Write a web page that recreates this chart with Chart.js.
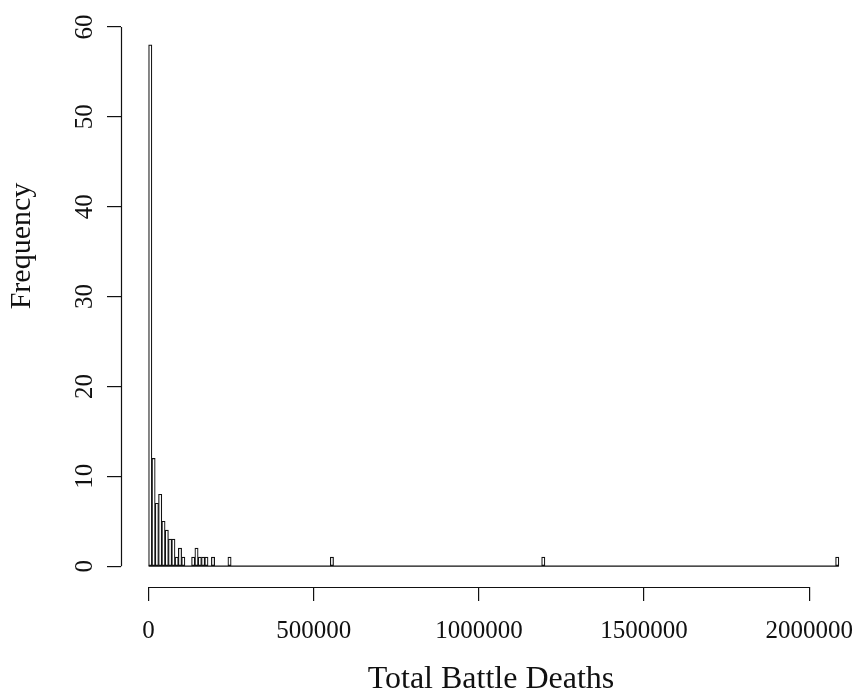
<!DOCTYPE html>
<html>
<head>
<meta charset="utf-8">
<title>Total Battle Deaths</title>
<script src="https://cdn.jsdelivr.net/npm/chart.js@4.4.1/dist/chart.umd.min.js"></script>
<style>
  html, body { margin: 0; padding: 0; background: #fff; }
  #wrap { width: 862px; height: 692px; }
</style>
</head>
<body>
<div id="wrap"><canvas id="histChart"></canvas></div>
<script>
// histogram bins are 10000 deaths wide, only the non-empty ones are listed
const binWidth = 10000;
const binStarts = [0, 10000, 20000, 30000, 40000, 50000, 60000, 70000, 80000, 90000, 100000,
    130000, 140000, 150000, 160000, 170000, 190000,
    240000, 550000, 1190000, 2080000];
const counts = [58, 12, 7, 8, 5, 4, 3, 3, 1, 2, 1,
    1, 2, 1, 1, 1, 1,
    1, 1, 1, 1];

// axis ticks (R style: axis line only runs from first to last tick)
const xTicks = [0, 500000, 1000000, 1500000, 2000000];
const yTicks = [0, 10, 20, 30, 40, 50, 60];

const serif = "'Liberation Serif', 'DejaVu Serif', serif";
const ink = "#111111";

// bar centres for the linear x scale
const barData = binStarts.map((s, i) => ({ x: s + binWidth / 2, y: counts[i] }));
// empty bins are drawn as a flat line on zero, like hist() does
const lastEdge = binStarts[binStarts.length - 1] + binWidth;
const zeroLine = [{ x: binStarts[0], y: 0 }, { x: lastEdge, y: 0 }];

// draws the axis lines and the y title
const rAxes = {
    id: "rAxes",
    afterDraw(chart) {
        const { ctx, chartArea } = chart;
        const x = chart.scales.x;
        const y = chart.scales.y;
        ctx.save();
        ctx.strokeStyle = ink;
        ctx.lineWidth = 1.2;
        ctx.beginPath();
        const bx = Math.round(chartArea.bottom) + 0.5;
        ctx.moveTo(x.getPixelForValue(xTicks[0]), bx);
        ctx.lineTo(x.getPixelForValue(xTicks[xTicks.length - 1]), bx);
        const ly = Math.round(chartArea.left) + 0.5;
        ctx.moveTo(ly, y.getPixelForValue(yTicks[0]));
        ctx.lineTo(ly, y.getPixelForValue(yTicks[yTicks.length - 1]));
        ctx.stroke();

        ctx.translate(22, 246);
        ctx.rotate(-Math.PI / 2);
        ctx.font = "30px " + serif;
        ctx.fillStyle = ink;
        ctx.textAlign = "center";
        ctx.textBaseline = "middle";
        ctx.fillText("Frequency", 0, 0);
        ctx.restore();
    }
};

const tickGrid = {
    display: true,
    drawOnChartArea: false,
    drawTicks: true,
    tickLength: 14,
    color: ink,
    lineWidth: 1.2,
    offset: false
};

const histChart = new Chart("histChart", {
    type: "bar",
    data: {
        datasets: [
            {
                label: "Frequency",
                data: barData,
                backgroundColor: "#ffffff",
                borderColor: ink,
                borderWidth: 1.2,
                borderSkipped: false,
                barPercentage: 1,
                categoryPercentage: 1
            },
            {
                type: "line",
                label: "empty bins",
                data: zeroLine,
                borderColor: ink,
                borderWidth: 1.2,
                pointRadius: 0
            }
        ]
    },
    options: {
        responsive: true,
        maintainAspectRatio: false,
        animation: false,
        layout: { padding: { top: 24, right: 1, left: 0, bottom: 0 } },
        plugins: {
            legend: { display: false },
            tooltip: { enabled: false }
        },
        scales: {
            x: {
                type: "linear",
                min: -83600,
                max: 2157000,
                offset: false,
                afterBuildTicks: (scale) => { scale.ticks = xTicks.map(v => ({ value: v })); },
                afterFit: (scale) => {
                    scale.height = 105;
                    // labels fit inside the canvas already, keep the plot width fixed
                    scale.paddingLeft = 0;
                    scale.paddingRight = 0;
                },
                grid: tickGrid,
                border: { display: false },
                ticks: {
                    font: { family: serif, size: 25 },
                    color: ink,
                    padding: 15,
                    maxRotation: 0,
                    autoSkip: false,
                    callback: (v) => String(v)
                },
                title: {
                    display: true,
                    text: "Total Battle Deaths",
                    font: { family: serif, size: 32, lineHeight: 0.8 },
                    color: ink,
                    padding: { top: 0, bottom: 0 }
                }
            },
            y: {
                type: "linear",
                min: -2.32,
                max: 60.32,
                afterBuildTicks: (scale) => { scale.ticks = yTicks.map(v => ({ value: v })); },
                afterFit: (scale) => { scale.width = 121; },
                grid: tickGrid,
                border: { display: false },
                ticks: {
                    font: { family: serif, size: 25 },
                    color: ink,
                    padding: 9,
                    minRotation: 90,
                    maxRotation: 90,
                    crossAlign: "center",
                    autoSkip: false,
                    callback: (v) => String(v)
                }
            }
        }
    },
    plugins: [rAxes]
});
</script>
</body>
</html>
